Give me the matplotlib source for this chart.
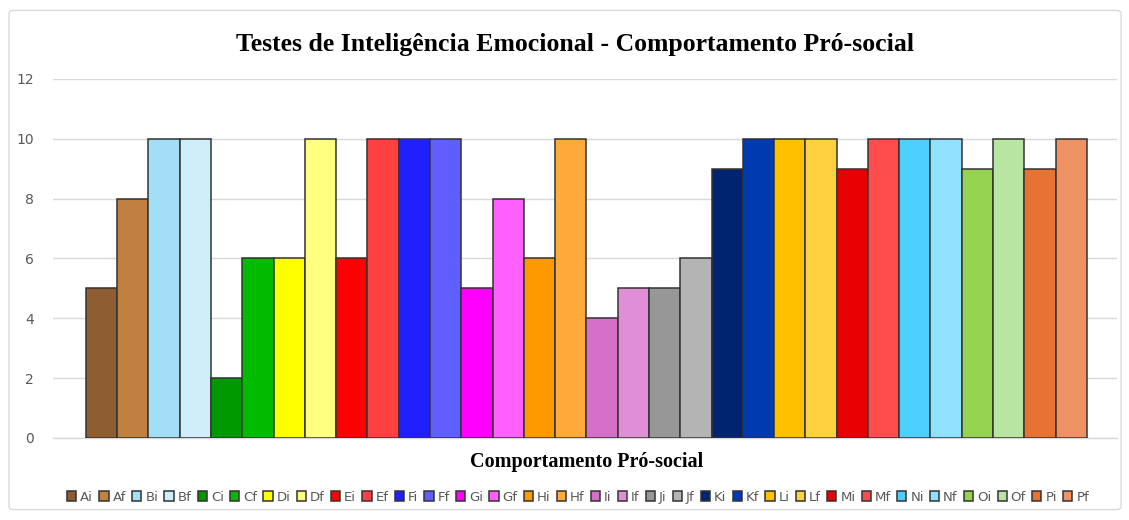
import matplotlib
matplotlib.use("Agg")
import matplotlib.pyplot as plt
from matplotlib.patches import FancyBboxPatch

labels = ["Ai", "Af", "Bi", "Bf", "Ci", "Cf", "Di", "Df", "Ei", "Ef", "Fi", "Ff",
          "Gi", "Gf", "Hi", "Hf", "Ii", "If", "Ji", "Jf", "Ki", "Kf", "Li", "Lf",
          "Mi", "Mf", "Ni", "Nf", "Oi", "Of", "Pi", "Pf"]
values = [5, 8, 10, 10, 2, 6, 6, 10, 6, 10, 10, 10,
          5, 8, 6, 10, 4, 5, 5, 6, 9, 10, 10, 10,
          9, 10, 10, 10, 9, 10, 9, 10]
colors = ["#8E5E32", "#C08040", "#A2DFF6", "#CFEEFA", "#009A00", "#00BB00",
          "#FFFF00", "#FFFF80", "#FF0000", "#FF4040", "#2020FF", "#5F5FFF",
          "#FF00FF", "#FF60FF", "#FF9900", "#FFAA3A", "#D66FC8", "#E08FD6",
          "#979797", "#B4B4B4", "#002470", "#003AB0", "#FFC000", "#FFD040",
          "#E60000", "#FF4D4D", "#4DD0FF", "#90E1FF", "#94D250", "#B8E6A2",
          "#E87234", "#EE9264"]
yticks = [0, 2, 4, 6, 8, 10, 12]

fig = plt.figure(figsize=(11.29, 5.2), dpi=100)
fig.patch.set_facecolor("white")
border = FancyBboxPatch((0.008, 0.02), 0.985, 0.96, boxstyle="round,pad=0,rounding_size=0.005",
                        transform=fig.transFigure, fill=False, edgecolor="#D9D9D9", lw=1)
fig.patches.append(border)

ax = fig.add_axes([0.047, 0.1577, 0.942, 0.6904])
handles = []
for i, (lab, v, c) in enumerate(zip(labels, values, colors)):
    h = ax.bar(i, v, width=1.0, color=c, edgecolor="#333333", linewidth=1.1, label=lab, zorder=3)
    handles.append(h)

ax.set_xlim(-1.55, 32.45)
ax.set_ylim(0, 12)
ax.set_yticks(yticks)
ax.set_xticks([])
ax.yaxis.grid(True, color="#D9D9D9", linewidth=1, zorder=0)
for s in ["top", "right", "left"]:
    ax.spines[s].set_visible(False)
ax.spines["bottom"].set_color("#D9D9D9")
ax.spines["bottom"].set_linewidth(1)
ax.tick_params(axis="y", length=0, pad=14, labelsize=10, labelcolor="#595959")

fig.text(0.5093, 0.915, "Testes de Inteligência Emocional - Comportamento Pró-social",
         ha="center", va="center", family="Liberation Serif", fontweight="bold", fontsize=18.5)
fig.text(0.5195, 0.111, "Comportamento Pró-social", ha="center", va="center",
         family="Liberation Serif", fontweight="bold", fontsize=14.5)

leg = fig.legend(handles=handles, labels=labels, loc="center", bbox_to_anchor=(0.512, 0.044),
                 ncol=32, frameon=False, fontsize=9.5, handlelength=0.7, handleheight=0.7,
                 handletextpad=0.3, columnspacing=0.47, borderaxespad=0)
for t in leg.get_texts():
    t.set_color("#595959")

fig.savefig("out.png", dpi=100)
